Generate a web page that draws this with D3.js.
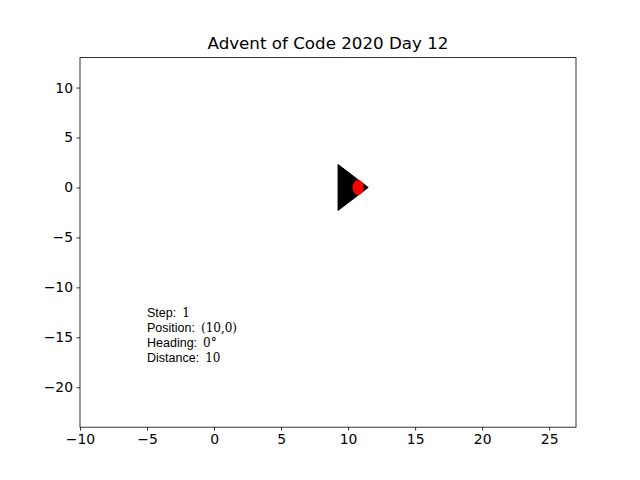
<!DOCTYPE html>
<html><head><meta charset="utf-8">
<script src="https://cdn.jsdelivr.net/npm/d3@7"></script>
<style>body{margin:0;background:#fff}</style>
</head><body>
<script>
const title = "Advent of Code 2020 Day 12";
const xDomain = [-10, 27];
const yDomain = [-24, 13];
const xTicks = [-10, -5, 0, 5, 10, 15, 20, 25];
const yTicks = [-20, -15, -10, -5, 0, 5, 10];
const shipPos = [10, 0];
const shipShape = [[1.5, 0], [-0.75, 2.3], [-0.75, -2.3]];
const dotOffset = [0.75, 0];
const infoLabels = ["Step:", "Position:", "Heading:", "Distance:"];
const infoValues = ["1", "(10,0)", "0°", "10"];
const infoAnchor = [-5, -13];

const W = 640, H = 480;
const m = {l: 80, r: 576, t: 57.6, b: 427.2};
const svg = d3.select("body").append("svg").attr("width", W).attr("height", H);
const x = d3.scaleLinear().domain(xDomain).range([m.l, m.r]);
const y = d3.scaleLinear().domain(yDomain).range([m.b, m.t]);

const ff = "DejaVu Sans, sans-serif";
svg.append("g").attr("transform", `translate(0,${m.b})`)
  .call(d3.axisBottom(x).tickValues(xTicks).tickSize(3.5).tickPadding(3.5).tickFormat(d => d < 0 ? "\u2212" + Math.abs(d) : d))
  .call(g => g.select(".domain").remove())
  .selectAll("text").style("font-family", ff).style("font-size", "13.9px").attr("fill", "#000");
svg.append("g").attr("transform", `translate(${m.l},0)`)
  .call(d3.axisLeft(y).tickValues(yTicks).tickSize(3.5).tickPadding(3.5).tickFormat(d => d < 0 ? "\u2212" + Math.abs(d) : d))
  .call(g => g.select(".domain").remove())
  .selectAll("text").style("font-family", ff).style("font-size", "13.9px").attr("fill", "#000");
svg.selectAll(".tick line").attr("stroke", "#000").attr("stroke-width", 0.8);

svg.append("rect").attr("x", m.l).attr("y", m.t).attr("width", m.r - m.l).attr("height", m.b - m.t)
  .attr("fill", "none").attr("stroke", "#000").attr("stroke-width", 0.8);

svg.append("text").attr("x", (m.l + m.r) / 2).attr("y", m.t - 9).attr("text-anchor", "middle")
  .style("font-family", ff).style("font-size", "16.7px").text(title);

// ship
svg.append("polygon")
  .attr("points", shipShape.map(p => [x(shipPos[0] + p[0]), y(shipPos[1] + p[1])].join(",")).join(" "))
  .attr("fill", "#000").attr("stroke", "#000").attr("stroke-width", 1);
const dc = [shipPos[0] + dotOffset[0], shipPos[1] + dotOffset[1]];
svg.append("ellipse").attr("cx", x(dc[0])).attr("cy", y(dc[1]))
  .attr("rx", x(dc[0] + 0.42) - x(dc[0])).attr("ry", y(dc[1]) - y(dc[1] + 0.75)).attr("fill", "red");

// info text
const lineH = 15;
const tg = svg.append("g");
infoLabels.forEach((lab, i) => {
  const t = tg.append("text").attr("x", x(infoAnchor[0])).attr("y", y(infoAnchor[1]) + i * lineH)
    .style("font-size", "12.5px");
  t.append("tspan").style("font-family", "Liberation Sans Narrow, Liberation Sans, sans-serif").text(lab);
  t.append("tspan").attr("dx", 6).style("font-family", "DejaVu Serif, serif").style("font-size", "12px").text(infoValues[i]);
});
</script>
</body></html>
